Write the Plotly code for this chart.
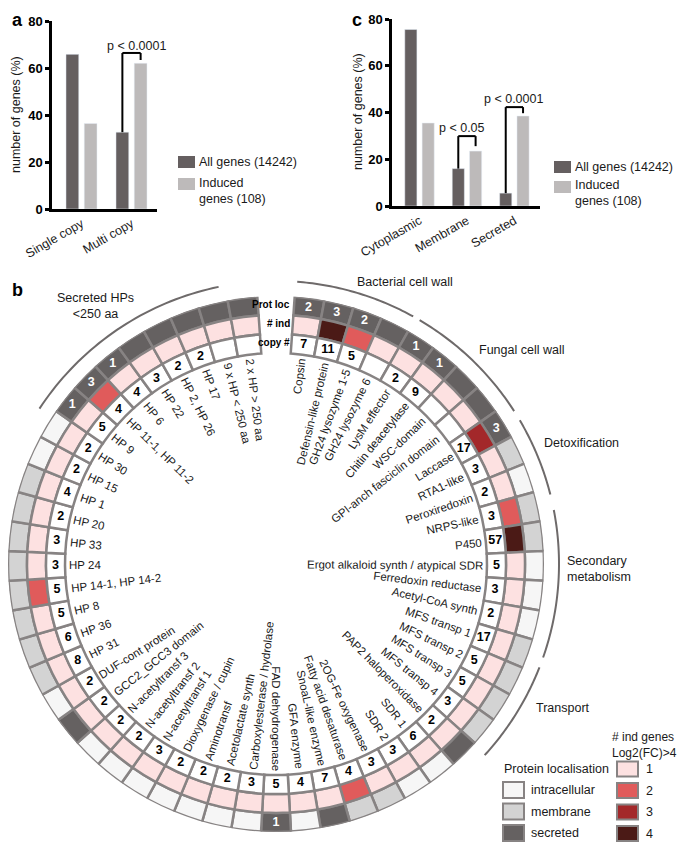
import math
import plotly.graph_objects as go

WIN_W, WIN_H = 685, 844
PAGE_MARGIN = 8  # default body margin of the html page
W, H = WIN_W - PAGE_MARGIN, WIN_H - PAGE_MARGIN
FONT = "Liberation Sans, Arial, Helvetica, sans-serif"

# ---------------- data: panel a ----------------
copy_cats = ["Single copy", "Multi copy"]
copy_all = [65.8, 32.7]
copy_induced = [36.4, 62.0]

# ---------------- data: panel c ----------------
loc_cats = ["Cytoplasmic", "Membrane", "Secreted"]
loc_all = [75.5, 16.0, 5.5]
loc_induced = [35.5, 23.5, 38.5]

series_names = ["All genes (14242)", "Induced<br>genes (108)"]

# ---------------- data: panel b (clockwise from top) ----------------
gene_names = [
    "Copsin", "Defensin-like protein", "GH24 lysozyme 1-5", "GH24 lysozyme 6",
    "LysM effector", "Chitin deacetylase", "WSC-domain", "GPI-anch fasciclin domain",
    "Laccase", "RTA1-like", "Peroxiredoxin", "NRPS-like", "P450",
    "Ergot alkaloid synth / atypical SDR", "Ferredoxin reductase", "Acetyl-CoA synth",
    "MFS transp 1", "MFS transp 2", "MFS transp 3", "MFS transp 4",
    "PAP2 haloperoxidase", "SDR 1", "SDR 2", "2OG-Fe oxygenase",
    "Fatty acid desaturase", "SnoaL-like enzyme", "GFA enzyme", "FAD dehydrogenase",
    "Carboxylesterase / hydrolase", "Acetolactate synth", "Aminotransf",
    "Dioxygenase / cupin", "N-acetyltransf 1", "N-acetyltransf 2", "N-acetyltransf 3",
    "GCC2_GCC3 domain", "DUF-cont protein", "HP 31", "HP 36", "HP 8",
    "HP 14-1, HP 14-2", "HP 24", "HP 33", "HP 20", "HP 1", "HP 15", "HP 30", "HP 9",
    "HP 11-1, HP 11-2", "HP 6", "HP 22", "HP 2, HP 26", "HP 17",
    "9 x HP < 250 aa", "2 x HP > 250 aa",
]
copy_numbers = [
    7, 11, 5, None, 2, 9, None, None, 17, 3, 2, 3, 57, 5, 3, 2, 17, 5, 5, 3,
    2, 6, 3, 3, 4, 7, 4, 5, 3, 2, 2, 2, 3, 2, 2, 2, 2, 8, 6, 5,
    5, 3, 3, 2, 4, 2, 2, 5, 4, 4, 3, 2, 2, None, None,
]
n_induced = [
    1, 4, 2, 1, 1, 1, 1, 1, 3, 1, 1, 2, 4, 1, 1, 1, 1, 1, 1, 1,
    1, 1, 1, 1, 2, 1, 1, 1, 1, 1, 1, 1, 1, 1, 1, 1, 1, 1, 1, 1,
    2, 1, 1, 1, 1, 1, 1, 1, 2, 1, 1, 1, 1, 1, 1,
]
prot_loc = [
    "S", "S", "S", "S", "S", "S", "S", "S", "S", "M", "I", "M", "M", "I", "I", "I",
    "M", "M", "M", "M", "S", "I", "I", "M", "M", "S", "I", "S", "I", "I", "I", "I",
    "I", "I", "I", "S", "I", "M", "M", "M", "M", "M", "M", "M", "M", "I", "I", "S",
    "S", "S", "S", "S", "S", "S", "S",
]
prot_loc_count = [
    2, 3, 2, None, 1, 1, None, None, 3, None, None, None, None, None, None, None,
    None, None, None, None, None, None, None, None, None, None, None, 1, None, None,
    None, None, None, None, None, None, None, None, None, None, None, None, None,
    None, None, None, None, 1, 3, 1, None, None, None, None, None,
]
groups = ["Secreted HPs<br><250 aa", "Bacterial cell wall", "Fungal cell wall",
          "Detoxification", "Secondary<br>metabolism", "Transport"]

# ---------------- styles ----------------
C_ALL, C_IND = "#655f60", "#bdbaba"
LOC_COL = {"I": "#f6f6f6", "M": "#d3d3d3", "S": "#656161"}
IND_COL = {1: "#fde1e1", 2: "#e05b5b", 3: "#a3282a", 4: "#4b1a16"}
BORDER = "#878383"
ARC_COL = "#6e6a6a"
TXT = "#1a1a1a"


def px(x):
    return (x - PAGE_MARGIN) / W


def py(y):
    return 1 - (y - PAGE_MARGIN) / H


ARIAL = {' ': 278, ',': 278, '-': 333, '.': 278, '/': 278, '<': 584, '>': 584, '_': 556,
         '(': 333, ')': 333, 'A': 667, 'C': 722, 'D': 722, 'E': 667, 'F': 611, 'G': 778,
         'H': 722, 'L': 556, 'M': 833, 'N': 722, 'O': 778, 'P': 667, 'R': 722, 'S': 667,
         'T': 611, 'W': 944, 'a': 556, 'b': 556, 'c': 500, 'd': 556, 'e': 556, 'f': 278,
         'g': 556, 'h': 556, 'i': 222, 'j': 222, 'k': 500, 'l': 222, 'm': 833, 'n': 556,
         'o': 556, 'p': 556, 'q': 556, 'r': 333, 's': 500, 't': 278, 'u': 556, 'v': 500,
         'w': 722, 'x': 500, 'y': 500, 'z': 500}


def text_w(s, size):
    return sum(ARIAL.get(ch, 556) for ch in s) / 1000 * size


fig = go.Figure()

# ---------------- panel a ----------------
fig.add_trace(go.Bar(x=copy_cats, y=copy_all, marker_color=C_ALL, xaxis="x", yaxis="y",
                     showlegend=False))
fig.add_trace(go.Bar(x=copy_cats, y=copy_induced, marker_color=C_IND, xaxis="x", yaxis="y",
                     showlegend=False))
# ---------------- panel c ----------------
fig.add_trace(go.Bar(x=loc_cats, y=loc_all, marker_color=C_ALL, xaxis="x2", yaxis="y2",
                     showlegend=False))
fig.add_trace(go.Bar(x=loc_cats, y=loc_induced, marker_color=C_IND, xaxis="x2", yaxis="y2",
                     showlegend=False))

BARGAP = 0.27
OFF = (1 - BARGAP) / 4

axis_common = dict(showline=True, linewidth=2.5, linecolor="black", showgrid=False,
                   zeroline=False, automargin=False)
yax = dict(axis_common, range=[0, 80], tickvals=[0, 20, 40, 60, 80], ticks="outside",
           ticklen=4, tickwidth=2.5, tickcolor="black",
           tickfont=dict(family=FONT, size=13, color="black", weight="bold"))
xax = dict(axis_common, ticks="", tickangle=-30, type="category",
           tickfont=dict(family=FONT, size=12.5, color=TXT))

fig.update_layout(
    xaxis=dict(xax, domain=[px(52), px(157)], range=[-0.59, 1.51], anchor="y"),
    yaxis=dict(yax, domain=[py(209), py(21)], anchor="x"),
    xaxis2=dict(xax, domain=[px(392), px(540)], range=[-0.58, 2.54], anchor="y2"),
    yaxis2=dict(yax, domain=[py(206), py(19)], anchor="x2"),
    barmode="group", bargap=BARGAP, bargroupgap=0.3,
)

shapes = []
annotations = []


def note(x, y, text, size=12.5, xanchor="center", yanchor="middle", **kw):
    d = dict(x=x, y=y, text=text, showarrow=False, xanchor=xanchor, yanchor=yanchor,
             font=dict(family=FONT, size=size, color=kw.pop("color", TXT),
                       weight=kw.pop("weight", "normal")))
    d.update(kw)
    d.setdefault("xref", "paper")
    d.setdefault("yref", "paper")
    annotations.append(d)


def bracket(xref, yref, idx, y_left, y_top, y_right):
    xl, xr = idx - OFF, idx + OFF
    ln = dict(color="black", width=2)
    shapes.append(dict(type="line", xref=xref, yref=yref, x0=xl, x1=xl, y0=y_left, y1=y_top, line=ln))
    shapes.append(dict(type="line", xref=xref, yref=yref, x0=xl, x1=xr, y0=y_top, y1=y_top, line=ln))
    shapes.append(dict(type="line", xref=xref, yref=yref, x0=xr, x1=xr, y0=y_top, y1=y_right, line=ln))


bracket("x", "y", 1, copy_all[1], copy_induced[1] + 4.4, copy_induced[1] + 1.4)
note(1.1, copy_induced[1] + 7.2, "p < 0.0001", xref="x", yref="y")
bracket("x2", "y2", 1, loc_all[1], loc_induced[1] + 6.4, loc_induced[1] + 2.1)
note(0.905, loc_induced[1] + 9.8, "p < 0.05", xref="x2", yref="y2")
bracket("x2", "y2", 2, loc_all[2], loc_induced[2] + 3.8, loc_induced[2] + 1.2)
note(1.99, loc_induced[2] + 7.2, "p < 0.0001", xref="x2", yref="y2")

# y titles and panel letters
for xx, yy in [(16, 115), (358, 112)]:
    note(px(xx), py(yy), "number of genes (%)", textangle=-90)
for letter, xx, yy in [("a", 17, 20), ("c", 357, 20), ("b", 17, 290)]:
    note(px(xx), py(yy), letter, size=18, color="black", weight="bold", borderpad=0)

# bar chart legends
for (lx, ly0, ly1) in [(178, 162, 184), (554, 167, 187)]:
    for k, (col, yy) in enumerate([(C_ALL, ly0), (C_IND, ly1)]):
        shapes.append(dict(type="rect", xref="paper", yref="paper", x0=px(lx), x1=px(lx + 17),
                           y0=py(yy - 6), y1=py(yy + 6), fillcolor=col, line=dict(width=0)))
        note(px(lx + 19), py(yy if k == 0 else yy + 6.5), series_names[k], xanchor="left",
             align="left")

# ---------------- panel b: ring ----------------
CX, CY, R = 276, 564, 268
N = len(gene_names)
GAP = 8.0
STEP = (360 - GAP) / N
theta = [GAP / 2 + (i + 0.5) * STEP for i in range(N)]
RING_W = 19
R_COPY, R_IND, R_LOC = R - 3 * RING_W, R - 2 * RING_W, R - RING_W

ring_line = dict(color=BORDER, width=2.5)
fig.add_trace(go.Barpolar(r=[RING_W] * N, base=[R_LOC] * N, theta=theta, width=[STEP] * N,
                          marker=dict(color=[LOC_COL[v] for v in prot_loc], line=ring_line),
                          hoverinfo="skip", showlegend=False))
fig.add_trace(go.Barpolar(r=[RING_W] * N, base=[R_IND] * N, theta=theta, width=[STEP] * N,
                          marker=dict(color=[IND_COL[v] for v in n_induced], line=ring_line),
                          hoverinfo="skip", showlegend=False))
fig.add_trace(go.Barpolar(r=[RING_W] * N, base=[R_COPY] * N, theta=theta, width=[STEP] * N,
                          marker=dict(color=["#ffffff"] * N, line=ring_line),
                          hoverinfo="skip", showlegend=False))
fig.add_trace(go.Scatterpolar(r=[R_COPY + RING_W / 2] * N, theta=theta, mode="text",
                              text=["" if c is None else str(c) for c in copy_numbers],
                              textfont=dict(family=FONT, size=12.5, color="black", weight="bold"),
                              hoverinfo="skip", showlegend=False))
fig.add_trace(go.Scatterpolar(r=[R_LOC + RING_W / 2] * N, theta=theta, mode="text",
                              text=["" if c is None else str(c) for c in prot_loc_count],
                              textfont=dict(family=FONT, size=12.5, color="white", weight="bold"),
                              hoverinfo="skip", showlegend=False))

# group arcs (start, end angles in degrees clockwise from top); drawn outside the radial range
GROUP_ARCS = [(303.3, 348.3), (4.3, 29.0), (30.5, 57.3), (59.5, 75.8), (79.0, 109.3), (111.4, 132.5)]
R_ARC = 283
for a0, a1 in GROUP_ARCS:
    n = 40
    pts = [math.radians(a0 + (a1 - a0) * k / n) for k in range(n + 1)]
    path = "M " + " L ".join(f"{px(CX + R_ARC * math.sin(t)):.5f},{py(CY - R_ARC * math.cos(t)):.5f}"
                             for t in pts)
    shapes.append(dict(type="path", xref="paper", yref="paper", path=path,
                       line=dict(color=ARC_COL, width=2)))

GROUP_LABEL_POS = [(95, 306, "center"), (355, 282, "left"), (477, 350, "left"),
                   (542, 443, "left"), (565, 569, "left"), (534, 708, "left")]
for g, (gx, gy, anc) in zip(groups, GROUP_LABEL_POS):
    note(px(gx), py(gy), g, xanchor=anc, align=anc)

# radial gene labels
LABEL_SIZE = 11.5
LABEL_R0 = R_COPY - 3
for i, name in enumerate(gene_names):
    th = theta[i]
    w = text_w(name, LABEL_SIZE)
    rc = LABEL_R0 - w / 2 - 1
    cx = CX + rc * math.sin(math.radians(th))
    cy = CY - rc * math.cos(math.radians(th))
    ang = th - 90 if i < 28 else th - 270
    note(px(cx), py(cy), name, size=LABEL_SIZE, textangle=ang, borderpad=0)

# ring titles
for txt, yy in [("Prot loc", 304), ("# ind", 323), ("copy #", 342)]:
    note(px(292), py(yy), txt, size=10, xanchor="right", color="black", weight="bold")

# ring legends
note(px(502), py(769), "Protein localisation", xanchor="left")
loc_legend = [("I", "intracellular"), ("M", "membrane"), ("S", "secreted")]
for k, (code, lab) in enumerate(loc_legend):
    yy = 790 + k * 21.5
    shapes.append(dict(type="rect", xref="paper", yref="paper", x0=px(503), x1=px(524),
                       y0=py(yy - 8), y1=py(yy + 8), fillcolor=LOC_COL[code],
                       line=dict(color=BORDER, width=2)))
    note(px(529), py(yy), lab, xanchor="left")
note(px(610), py(745), "# ind genes<br>Log2(FC)>4", size=12, xanchor="left", align="left")
for k, lvl in enumerate(sorted(IND_COL)):
    yy = 769 + k * 21.5
    shapes.append(dict(type="rect", xref="paper", yref="paper", x0=px(617), x1=px(638),
                       y0=py(yy - 7.5), y1=py(yy + 7.5), fillcolor=IND_COL[lvl],
                       line=dict(color=BORDER, width=2)))
    note(px(644), py(yy), str(lvl), xanchor="left")

fig.update_layout(
    width=W, height=H, margin=dict(l=0, r=0, t=0, b=0, autoexpand=False),
    paper_bgcolor="white", plot_bgcolor="rgba(0,0,0,0)",
    font=dict(family=FONT, color=TXT),
    polar=dict(domain=dict(x=[px(CX - R), px(CX + R)], y=[py(CY + R), py(CY - R)]),
               bgcolor="rgba(0,0,0,0)", hole=0, barmode="overlay",
               radialaxis=dict(range=[0, R], visible=False),
               angularaxis=dict(rotation=90, direction="clockwise", visible=False)),
    shapes=shapes, annotations=annotations,
)

fig.write_html("out.html")
